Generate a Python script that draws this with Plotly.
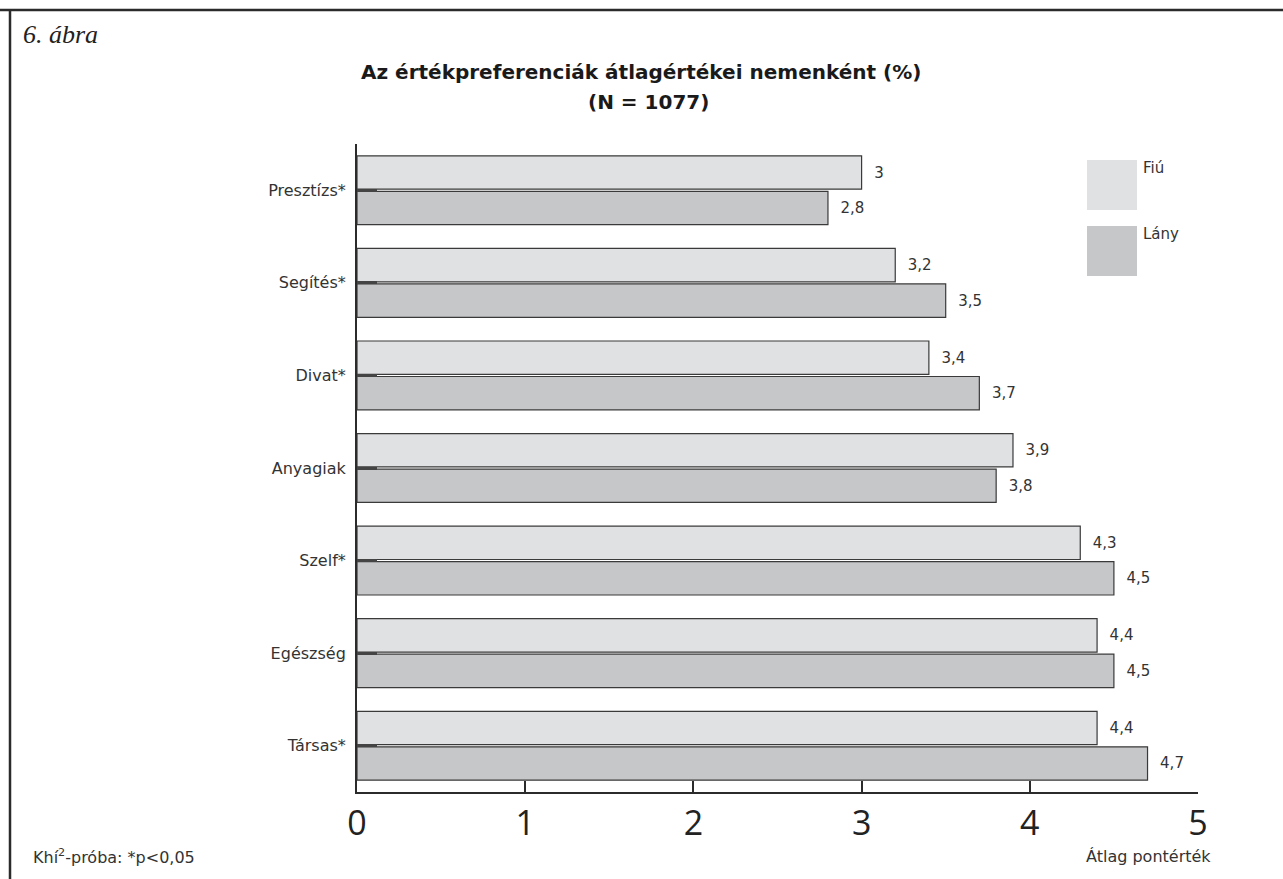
import plotly.graph_objects as go

categories = ["Presztízs*", "Segítés*", "Divat*", "Anyagiak", "Szelf*", "Egészség", "Társas*"]
fiu = [3.0, 3.2, 3.4, 3.9, 4.3, 4.4, 4.4]
lany = [2.8, 3.5, 3.7, 3.8, 4.5, 4.5, 4.7]
x_ticks = [0, 1, 2, 3, 4, 5]
series_names = ["Fiú", "Lány"]
colors = ["#e0e1e3", "#c6c7c9"]

def fmt(v):
    s = ("%g" % v)
    return "\u00a0\u00a0" + s.replace(".", ",")

FONT = "'DejaVu Sans', sans-serif"
DARK = "#2b2b2b"

fig = go.Figure()
for name, vals, col in zip(series_names, [fiu, lany], colors):
    fig.add_trace(go.Bar(
        y=categories, x=vals, name=name, orientation="h",
        marker=dict(color=col, line=dict(color="#3a3a3a", width=1.2)),
        text=[fmt(v) for v in vals], textposition="outside",
        textfont=dict(family=FONT, size=15, color="#333"),
        cliponaxis=False, showlegend=False,
    ))

fig.update_layout(
    width=1283, height=879,
    paper_bgcolor="white", plot_bgcolor="white",
    margin=dict(l=357, r=1283 - 1198, t=144, b=879 - 792),
    barmode="group", bargap=0.233, bargroupgap=0.06,
    font=dict(family=FONT, color=DARK),
    uniformtext=dict(minsize=15, mode="show"),
    xaxis=dict(
        range=[0, 5], tickvals=x_ticks, ticktext=[str(t) for t in x_ticks],
        showgrid=False, zeroline=False, showline=True, linecolor=DARK, linewidth=2,
        ticks="inside", ticklen=11, tickwidth=1.5, tickcolor=DARK,
        tickfont=dict(family="'Open Sans', sans-serif", size=34, color="#222"),
    ),
    yaxis=dict(
        autorange="reversed", showgrid=False, zeroline=False,
        showline=True, linecolor=DARK, linewidth=2,
        ticks="inside", ticklen=20, tickwidth=2.5, tickcolor="#444",
        tickfont=dict(family=FONT, size=16, color="#333"),
        ticklabelstandoff=6,
    ),
    showlegend=False,
)

# Frame
fig.add_shape(type="line", xref="paper", yref="paper",
              x0=-357 / 841, x1=(1290 - 357) / 841, y0=(792 - 10) / 648, y1=(792 - 10) / 648,
              line=dict(color=DARK, width=2.5))
fig.add_shape(type="line", xref="paper", yref="paper",
              x0=(10 - 357) / 841, x1=(10 - 357) / 841, y0=(792 - 10) / 648, y1=-100 / 648,
              line=dict(color=DARK, width=2.5))

# Title
fig.add_annotation(xref="paper", yref="paper", x=(641 - 357) / 841, y=(792 - 58) / 648,
                   text="<b>Az értékpreferenciák átlagértékei nemenként (%)</b>",
                   showarrow=False, xanchor="center", yanchor="top",
                   font=dict(family=FONT, size=20, color="#1a1a1a"))
fig.add_annotation(xref="paper", yref="paper", x=(648 - 357) / 841, y=(792 - 88) / 648,
                   text="<b>(N = 1077)</b>",
                   showarrow=False, xanchor="center", yanchor="top",
                   font=dict(family=FONT, size=20, color="#1a1a1a"))
fig.add_annotation(xref="paper", yref="paper", x=(21 - 357) / 841, y=(792 - 18) / 648,
                   text="<i>6. ábra</i>", showarrow=False, xanchor="left", yanchor="top",
                   font=dict(family="'Liberation Serif', serif", size=26, color="#222"))

# Legend
for i, (name, col) in enumerate(zip(series_names, colors)):
    top = 160 + i * 66
    fig.add_shape(type="rect", xref="paper", yref="paper",
                  x0=(1087 - 357) / 841, x1=(1137 - 357) / 841,
                  y0=(792 - top) / 648, y1=(792 - top - 50) / 648,
                  fillcolor=col, line=dict(width=0))
    fig.add_annotation(xref="paper", yref="paper", x=(1141 - 357) / 841, y=(792 - top + 3) / 648,
                       text=name, showarrow=False, xanchor="left", yanchor="top",
                       font=dict(family=FONT, size=15, color="#333"))

# Footnotes
fig.add_annotation(xref="paper", yref="paper", x=(31 - 357) / 841, y=(792 - 857) / 648,
                   text="Khí<sup>2</sup>-próba: *p<0,05", showarrow=False,
                   xanchor="left", yanchor="middle",
                   font=dict(family=FONT, size=16, color="#333"))
fig.add_annotation(xref="paper", yref="paper", x=(1213 - 357) / 841, y=(792 - 857) / 648,
                   text="Átlag pontérték", showarrow=False,
                   xanchor="right", yanchor="middle",
                   font=dict(family=FONT, size=16, color="#333"))

fig.write_html("out.html")
